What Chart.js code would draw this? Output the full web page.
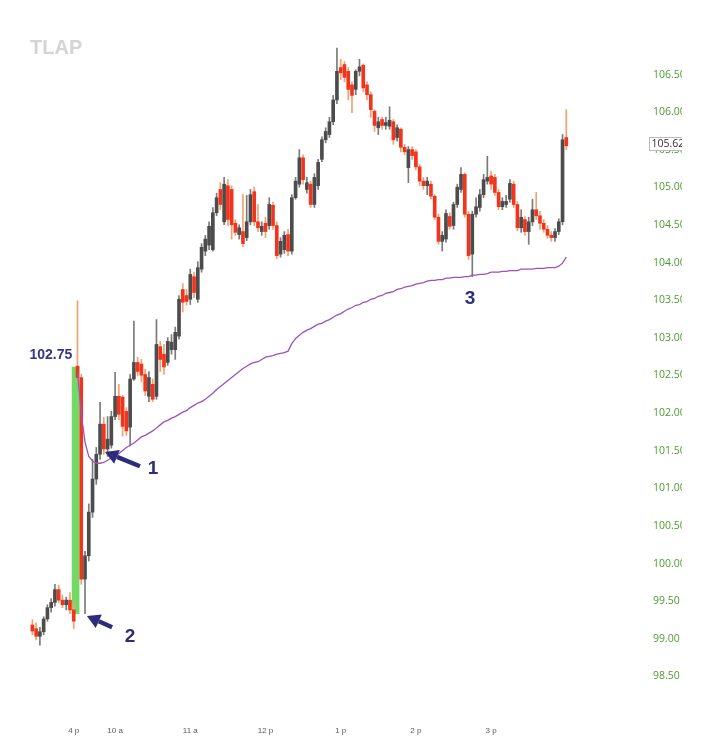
<!DOCTYPE html>
<html><head><meta charset="utf-8">
<script src="https://cdn.jsdelivr.net/npm/chart.js@4.4.1/dist/chart.umd.min.js"></script>
<style>
html,body{margin:0;padding:0;background:#fff;}
#wrap{position:relative;width:682px;height:750px;overflow:hidden;}
</style></head><body>
<div id="wrap"><canvas id="c"></canvas></div>
<script>
// ---- data: 3-minute bars (prior-day close, then the session) ----
const openP = [99.25,99.20,99.10,99.16,99.33,99.48,99.55,99.72,99.58,99.52,99.58,99.45,
102.69,102.54,99.86,100.17,100.75,101.19,101.52,101.92,101.59,101.64,
102.02,102.29,102.28,102.09,101.88,102.52,102.74,102.72,102.58,102.29,
102.45,102.29,102.95,102.85,102.74,102.91,102.91,103.09,103.71,103.63,
103.58,103.88,103.58,103.98,104.22,104.30,104.24,104.73,105.04,104.61,
105.09,105.04,104.59,104.44,104.48,104.40,104.61,105.01,104.61,104.48,
104.59,104.56,104.83,104.56,104.18,104.24,104.44,104.22,104.93,105.11,
105.46,105.04,105.11,104.84,105.09,105.44,105.70,105.77,105.94,106.23,
106.66,106.70,106.61,106.43,106.37,106.61,106.69,106.43,106.30,106.08,
105.86,105.97,105.89,105.88,105.94,105.73,105.84,105.60,105.33,105.57,
105.54,105.34,105.15,105.09,105.11,104.95,104.67,104.35,104.38,104.68,
104.56,104.84,105.04,105.24,104.71,104.18,104.71,104.80,104.97,105.15,
105.22,105.20,105.00,104.81,104.84,104.91,105.11,104.84,104.53,104.64,
104.48,104.61,104.77,104.69,104.59,104.51,104.43,104.40,104.48,104.61,105.73];
const highP = [99.32,99.28,99.22,99.36,99.52,99.60,99.79,99.78,99.65,99.62,99.68,99.55,
103.56,102.58,100.23,100.86,101.45,101.61,102.21,102.01,102.02,102.09,
102.61,102.45,102.30,102.14,102.58,103.29,102.81,102.78,102.65,102.62,
102.52,103.31,103.02,102.98,103.07,103.11,103.21,103.63,103.79,103.71,
103.98,103.94,104.08,104.32,104.43,104.61,104.80,104.99,105.13,105.20,
105.17,105.09,104.64,104.57,104.97,104.96,105.04,105.07,104.84,104.61,
104.67,104.93,104.87,104.61,104.40,104.48,104.51,104.97,105.20,105.57,
105.50,105.20,105.15,105.25,105.44,105.74,105.86,106.00,106.29,106.92,
106.77,106.74,106.66,106.47,106.63,106.77,106.71,106.47,106.34,106.10,
106.00,106.00,106.00,106.14,105.97,105.90,105.86,105.64,105.61,105.61,
105.57,105.37,105.20,105.20,105.15,104.97,104.71,104.48,104.77,104.73,
104.87,105.11,105.33,105.26,104.75,104.75,104.93,105.04,105.24,105.48,
105.28,105.24,105.04,104.93,104.96,105.17,105.15,104.88,104.77,104.68,
104.67,104.91,105.00,104.75,104.64,104.56,104.48,104.52,104.65,105.77,106.10];
const lowP = [99.12,99.05,98.98,99.12,99.30,99.42,99.50,99.55,99.48,99.45,99.40,99.20,
102.48,99.79,99.40,100.10,100.68,101.12,101.45,101.52,101.49,101.60,
101.98,101.98,101.76,101.77,101.63,102.50,102.56,102.48,102.30,102.22,
102.22,102.25,102.62,102.58,102.70,102.85,102.78,103.05,103.41,103.50,
103.51,103.60,103.54,103.94,104.16,104.24,104.22,104.69,104.77,104.57,
104.56,104.38,104.43,104.38,104.28,104.36,104.57,104.56,104.48,104.43,
104.40,104.51,104.51,104.12,104.14,104.19,104.16,104.18,104.91,105.07,
105.11,104.99,104.80,104.80,105.04,105.41,105.66,105.73,105.90,106.18,
106.50,106.47,106.23,106.06,106.30,106.55,106.34,106.23,106.00,105.81,
105.77,105.84,105.84,105.84,105.64,105.68,105.54,105.50,105.13,105.44,
105.30,105.09,105.04,104.97,104.91,104.64,104.31,104.22,104.34,104.51,
104.51,104.80,105.00,104.67,104.11,103.88,104.67,104.75,104.93,105.11,
105.04,104.96,104.77,104.77,104.80,104.87,104.80,104.49,104.47,104.43,
104.31,104.56,104.64,104.51,104.47,104.39,104.35,104.35,104.44,104.57,105.57];
const closeP = [99.17,99.10,99.16,99.33,99.48,99.55,99.72,99.58,99.52,99.58,99.45,99.30,
102.54,99.86,100.17,100.75,101.19,101.52,101.92,101.59,101.72,102.02,
102.29,102.05,101.89,101.83,102.52,102.74,102.62,102.57,102.36,102.54,
102.25,102.98,102.78,102.68,103.02,103.01,103.14,103.58,103.54,103.55,
103.91,103.67,104.00,104.27,104.38,104.55,104.73,104.93,104.84,105.11,
104.64,104.57,104.47,104.53,104.32,104.61,104.97,104.61,104.53,104.55,
104.48,104.84,104.56,104.16,104.35,104.43,104.22,104.93,105.15,105.46,
105.17,105.13,104.84,105.20,105.40,105.70,105.81,105.94,106.23,106.61,
106.59,106.53,106.37,106.29,106.61,106.67,106.39,106.30,106.10,105.89,
105.94,105.89,105.93,105.96,105.70,105.86,105.60,105.54,105.57,105.49,
105.34,105.15,105.09,105.15,104.95,104.67,104.35,104.43,104.72,104.55,
104.84,105.07,105.24,104.71,104.16,104.71,104.81,104.97,105.17,105.20,
105.11,105.00,104.81,104.88,104.88,105.12,104.84,104.53,104.67,104.48,
104.61,104.77,104.69,104.59,104.51,104.43,104.40,104.48,104.61,105.70,105.62];
// session VWAP (starts with the session's first bar)
const vwap = [102.62,102.05,101.68,101.49,101.43,101.40,101.40,101.41,101.44,101.47,
101.49,101.53,101.57,101.61,101.64,101.67,101.71,101.75,101.77,101.80,
101.83,101.87,101.91,101.95,101.97,102.00,102.02,102.05,102.08,102.10,
102.14,102.17,102.20,102.22,102.25,102.29,102.33,102.38,102.42,102.46,
102.50,102.54,102.58,102.62,102.66,102.69,102.72,102.74,102.75,102.78,
102.81,102.82,102.83,102.85,102.86,102.87,102.89,102.99,103.06,103.10,
103.14,103.17,103.19,103.22,103.25,103.26,103.29,103.31,103.34,103.37,
103.39,103.42,103.45,103.47,103.50,103.51,103.54,103.55,103.58,103.59,
103.62,103.63,103.66,103.67,103.68,103.71,103.72,103.74,103.75,103.76,
103.78,103.79,103.80,103.82,103.83,103.83,103.84,103.84,103.86,103.86,
103.87,103.87,103.87,103.88,103.88,103.90,103.90,103.91,103.91,103.92,
103.94,103.94,103.94,103.95,103.95,103.96,103.96,103.96,103.98,103.98,
103.98,103.98,103.99,103.99,103.99,104.00,104.00,104.00,104.02,104.06,104.14];
// gap highlight: prior close area up to the opening print
const gapRange = [99.40, 102.68];
const gapBarPos = 11.5;
const gapLabel = '102.75';
// x-axis tick labels (bar index of each hour mark)
const tickIdx = [11, 22, 42, 62, 82, 102, 122];
const tickText = ['4 p', '10 a', '11 a', '12 p', '1 p', '2 p', '3 p'];
// callouts in data coordinates [bar index, price]
const arrows = [ {from:[28.6,101.36], to:[19.3,101.55]}, {from:[21.2,99.22], to:[14.5,99.37]} ];
const callouts = [ {text:'1', at:[32.1,101.32]}, {text:'2', at:[26.0,99.09]}, {text:'3', at:[116.4,103.58]} ];
const gapLabelAt = [10.6, 102.84];

// ---- build datasets ----
const n = closeP.length;
const idx = closeP.map((_, i) => i);
const up = idx.map(i => closeP[i] >= openP[i]);
const RED = '#f2341c', GREY = '#4c4c4c';
const wickData = idx.map(i => ({x:i, y:[lowP[i], highP[i]]}));
const bodyData = idx.map(i => ({x:i, y:[Math.min(openP[i],closeP[i]), Math.max(openP[i],closeP[i])]}));
const vwapStart = n - vwap.length;
const vwapData = vwap.map((v, k) => ({x: k + vwapStart, y: v}));

const NAVY = '#2d2d7c';
function drawArrow(ctx, x1, y1, x2, y2) {
  const a = Math.atan2(y2 - y1, x2 - x1), head = 13, hw = 7.5;
  const bx = x2 - head * Math.cos(a), by = y2 - head * Math.sin(a);
  ctx.lineWidth = 4.5;
  ctx.beginPath(); ctx.moveTo(x1, y1); ctx.lineTo(bx, by); ctx.stroke();
  ctx.beginPath(); ctx.moveTo(x2, y2);
  ctx.lineTo(bx + hw * Math.sin(a), by - hw * Math.cos(a));
  ctx.lineTo(bx - hw * Math.sin(a), by + hw * Math.cos(a));
  ctx.closePath(); ctx.fill();
}
const annot = {
  id: 'annot',
  afterDatasetsDraw(chart) {
    const {ctx, scales: {x, y}} = chart;
    ctx.save();
    ctx.strokeStyle = NAVY; ctx.fillStyle = NAVY;
    arrows.forEach(a => drawArrow(ctx, x.getPixelForValue(a.from[0]), y.getPixelForValue(a.from[1]),
                                       x.getPixelForValue(a.to[0]), y.getPixelForValue(a.to[1])));
    ctx.font = 'bold 19px "Liberation Sans", Arial, sans-serif';
    ctx.textAlign = 'center'; ctx.textBaseline = 'middle';
    callouts.forEach(c => ctx.fillText(c.text, x.getPixelForValue(c.at[0]), y.getPixelForValue(c.at[1])));
    ctx.font = 'bold 14px "Liberation Sans", Arial, sans-serif';
    ctx.fillStyle = '#34348a'; ctx.textAlign = 'right';
    ctx.fillText(gapLabel, x.getPixelForValue(gapLabelAt[0]), y.getPixelForValue(gapLabelAt[1]));
    ctx.restore();
  },
  afterDraw(chart) {
    const {ctx, scales: {y}, chartArea} = chart;
    ctx.save();
    // symbol watermark
    ctx.font = 'bold 20px "Liberation Sans", Arial, sans-serif';
    ctx.fillStyle = '#d4d4d4'; ctx.textAlign = 'left'; ctx.textBaseline = 'middle';
    ctx.fillText('TLAP', 30, 48);
    // last price box
    const py = y.getPixelForValue(closeP[n - 1]) - 2;
    const bx = chartArea.right + 9.5;
    ctx.fillStyle = '#fff'; ctx.fillRect(bx, py - 6.5, 40, 13);
    ctx.strokeStyle = '#b9b9b9'; ctx.lineWidth = 1; ctx.strokeRect(bx, Math.round(py - 6.5) + 0.5, 40, 13);
    ctx.fillStyle = '#3a2b2b';
    ctx.font = '10.5px "Open Sans", sans-serif';
    ctx.fillText(closeP[n - 1].toFixed(2), bx + 2, py + 0.5);
    ctx.restore();
  }
};

new Chart(document.getElementById('c'), {
  type: 'bar',
  data: {
    datasets: [
      { type: 'line', data: vwapData, borderColor: '#9d52b8', borderWidth: 1.3, pointRadius: 0, tension: 0, order: 1 },
      { data: bodyData, backgroundColor: idx.map(i => up[i] ? GREY : RED), barThickness: 3, grouped: false, order: 2 },
      { data: wickData, backgroundColor: idx.map(i => up[i] ? '#7a7a7a' : '#f4a06e'), barThickness: 1, grouped: false, order: 3 },
      { data: [{x: gapBarPos, y: gapRange}], backgroundColor: 'rgba(96,214,84,0.9)', barThickness: 7, grouped: false, order: 4 }
    ]
  },
  options: {
    responsive: true, maintainAspectRatio: false, animation: false, devicePixelRatio: 1,
    layout: { padding: { left: 10, top: 42, right: 0, bottom: 0 } },
    plugins: { legend: { display: false }, tooltip: { enabled: false } },
    scales: {
      x: {
        type: 'linear', min: -5.95, max: 161.6, offset: false,
        grid: { display: false, drawTicks: false }, border: { display: false },
        afterBuildTicks: s => { s.ticks = tickIdx.map(v => ({ value: v })); },
        afterFit: s => { s.height = 31; },
        ticks: { autoSkip: false, maxRotation: 0, padding: 7, color: '#5a5a5a',
                 font: { size: 8, family: '"Liberation Sans", Arial, sans-serif' },
                 callback: v => { const k = tickIdx.indexOf(v); return k >= 0 ? tickText[k] : ''; } }
      },
      y: {
        position: 'right', min: 98, max: 107,
        grid: { display: false, drawTicks: false }, border: { display: false },
        afterFit: s => { s.width = 42; },
        ticks: { stepSize: 0.5, padding: 13, labelOffset: -5, color: '#4f9a30',
                 font: { size: 10.5, family: '"Open Sans", sans-serif' },
                 callback: v => (v <= 98 || v >= 107) ? '' : Number(v).toFixed(2) }
      }
    }
  },
  plugins: [annot]
});
</script>
</body></html>
